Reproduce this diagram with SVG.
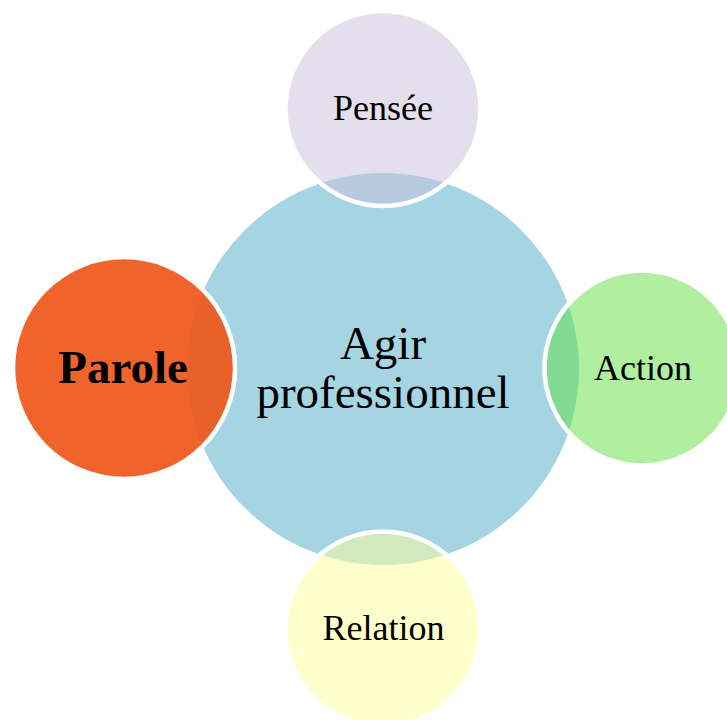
<svg xmlns="http://www.w3.org/2000/svg" width="727" height="720" viewBox="0 0 727 720">
<style>
.sat{stroke:#ffffff;stroke-width:4.5}
.t{font-family:"Liberation Serif","Times New Roman",serif;fill:#000;text-anchor:middle}
.s{font-size:36px}
.m{font-size:47px}
</style>
<rect width="727" height="720" fill="#ffffff"/>
<g id="connectors"></g>
<g id="center">
<circle cx="383" cy="369" r="196" fill="#A5D5E2"/>
<text class="t m" x="383" y="359">Agir</text>
<text class="t m" x="383" y="408">professionnel</text>
</g>
<g id="pensee">
<circle class="sat" cx="383" cy="108.5" r="97.5" fill="#C9BFD9" fill-opacity="0.5"/>
<text class="t s" x="383" y="120">Pensée</text>
</g>
<g id="action">
<circle class="sat" cx="642" cy="368" r="97.5" fill="#61E041" fill-opacity="0.5"/>
<text class="t s" x="643" y="380">Action</text>
</g>
<g id="relation">
<circle class="sat" cx="383" cy="629" r="97.5" fill="#FFFF99" fill-opacity="0.5"/>
<text class="t s" x="383.5" y="640">Relation</text>
</g>
<g id="parole">
<circle class="sat" cx="124" cy="368" r="111" fill="#EE5517" fill-opacity="0.91"/>
<text class="t m" x="123" y="383" font-weight="bold">Parole</text>
</g>
</svg>
